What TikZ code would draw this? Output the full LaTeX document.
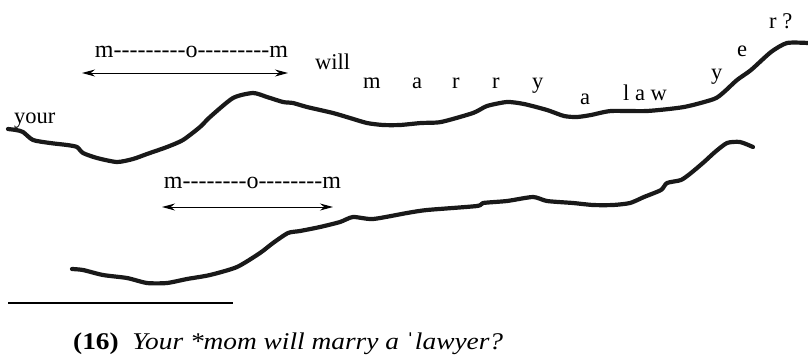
\documentclass[tikz,border=0pt]{standalone}
\usepackage{fontspec}
\setmainfont{Liberation Serif}[Ligatures=TeXOff]
\usetikzlibrary{arrows.meta}
\tikzset{
  contour/.style={line width=4.2pt, line join=round, line cap=round, black!90},
  span/.style={line width=1pt, {Stealth[length=13pt,width=7pt]}-{Stealth[length=13pt,width=7pt]}},
  lbl/.style={inner sep=0pt, font=\fontsize{22.5}{24}\selectfont, anchor=base west},
  mom/.style={inner sep=0pt, font=\fontsize{24}{26}\selectfont, anchor=base},
}
\begin{document}
\begin{tikzpicture}[x=1pt,y=-1pt]
\useasboundingbox (0,0) rectangle (808,354);
% upper contour
\draw[contour] plot[smooth, tension=0.4] coordinates {(8,129) (16,130) (23,132) (33,140) (50,143) (67,145) (77,147) (83,153) (97,158) (117,162) (133,159) (147,154) (167,147) (183,140) (200,127) (210,117) (233,98) (253,93) (267,97) (283,102) (293,103) (307,107) (333,113) (350,118) (367,123) (383,125) (400,125) (421,123) (441,122) (473,113) (487,106) (507,102) (524,104) (547,110) (564,116) (577,117) (591,115) (611,111) (647,111) (684,107) (714,99) (724,92) (737,80) (751,70) (771,52) (787,43) (808,43)};
% lower contour
\draw[contour] plot[smooth, tension=0.4] coordinates {(72,269) (83,270) (103,275) (127,278) (147,283) (167,283) (187,279) (210,275) (237,267) (260,253) (273,243) (288,233) (300,231) (320,227) (340,222) (353,217) (373,219) (407,213) (427,210) (477,206) (483,203) (507,201) (533,197) (547,201) (573,203) (593,205) (613,205) (630,203) (644,197) (661,190) (667,183) (681,180) (691,173) (704,162) (715,152) (727,143) (740,142) (753,147)};
% labels upper
\node[lbl] (your) at (14,123) {your};
\node[mom] (mom1) at (191.5,57) {m---------o---------m};
\coordinate (a1l) at (82,73);
\coordinate (a1r) at (288,73);
\draw[span] (a1l) -- (a1r);
\node[lbl] (will) at (315,69) {will};
\node[lbl] (m1) at (363,88) {m};
\node[lbl] (a1) at (412,88) {a};
\node[lbl] (r1) at (452,88) {r};
\node[lbl] (r2) at (492,88) {r};
\node[lbl] (y1) at (532,88) {y};
\node[lbl] (a2) at (580,104) {a};
\node[lbl] (law) at (623,100) {l a w};
\node[lbl] (y2) at (711,79) {y};
\node[lbl] (e1) at (737,56) {e};
\node[lbl] (rq) at (769,28) {r ?};
% lower
\node[mom] (mom2) at (252.5,188) {m--------o--------m};
\coordinate (a2l) at (162,207);
\coordinate (a2r) at (333,207);
\draw[span] (a2l) -- (a2r);
% rule
\coordinate (rl) at (8,303);
\coordinate (rr) at (233,303);
\draw[line width=1.3pt] (rl) -- (rr);
% caption
\node[inner sep=0pt, anchor=base west, font=\fontsize{24}{26}\selectfont] (cap) at (73,349) {\scalebox{1.14}[1]{\textbf{(16)}\hspace{0.5em}\textit{Your *mom will marry a }ˈ\textit{lawyer?}}};
\end{tikzpicture}
\end{document}
